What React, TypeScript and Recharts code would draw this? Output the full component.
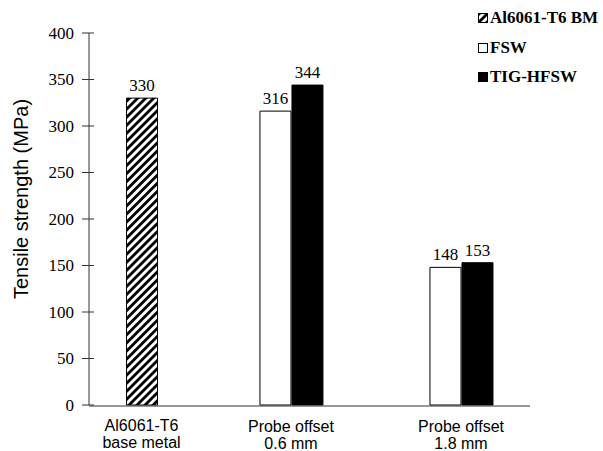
import React from 'react'
import { Bar, BarChart, LabelList, XAxis, YAxis } from 'recharts'

const categories = [
  ['Al6061-T6', 'base metal'],
  ['Probe offset', '0.6 mm'],
  ['Probe offset', '1.8 mm'],
]
const bmValues = [330, null, null]
const fswValues = [null, 316, 148]
const tigValues = [null, 344, 153]
const yTicks = [0, 50, 100, 150, 200, 250, 300, 350, 400]

const seriesNames = ['Al6061-T6 BM', 'FSW', 'TIG-HFSW']

const data = categories.map((c, i) => ({
  idx: i,
  bm: bmValues[i],
  fsw: fswValues[i],
  tig: tigValues[i],
}))

const serif = "'Liberation Serif', 'Times New Roman', serif"
const sans = "'Liberation Sans', Arial, sans-serif"
const axisColor = '#333'

const XTick = ({ x, y, payload }: any) => {
  const lines = categories[payload.value] || ['', '']
  return (
    <text x={x} y={y} textAnchor='middle' style={{ fontFamily: sans, fontSize: 16 }} fill='#000'>
      <tspan x={x} dy={26}>{lines[0]}</tspan>
      <tspan x={x} dy={17}>{lines[1]}</tspan>
    </text>
  )
}

const YTick = ({ x, y, payload }: any) => (
  <g>
    <line x1={x - 7} x2={x + 5} y1={y} y2={y} stroke={axisColor} strokeWidth={1} />
    <text x={x - 15} y={y} dy={5.5} textAnchor='end' style={{ fontFamily: serif, fontSize: 17 }} fill='#000'>
      {payload.value}
    </text>
  </g>
)

const YLabel = ({ viewBox }: any) => {
  const cy = viewBox.y + viewBox.height / 2 - 20
  return (
    <text x={21} y={cy} transform={`rotate(-90 21 ${cy})`} textAnchor='middle' dominantBaseline='central'
      style={{ fontFamily: sans, fontSize: 20 }} fill='#000'>
      Tensile strength (MPa)
    </text>
  )
}

function HatchDefs({ id }: { id: string }) {
  return (
    <defs>
      <pattern id={id} patternUnits='userSpaceOnUse' width={5.7} height={5.7} patternTransform='rotate(45)'>
        <rect width={5.7} height={5.7} fill='#fff' />
        <line x1={0} y1={0} x2={0} y2={5.7} stroke='#000' strokeWidth={5.6} />
      </pattern>
    </defs>
  )
}

function Legend() {
  const fills = ['url(#hatch-legend)', '#fff', '#000']
  const rows = [18, 48, 77]
  return (
    <div style={{ position: 'absolute', left: 0, top: 0 }}>
      {seriesNames.map((name, i) => (
        <div key={name} style={{ position: 'absolute', left: 478, top: rows[i] - 10, height: 20, display: 'flex', alignItems: 'center', whiteSpace: 'nowrap' }}>
          <svg width={10} height={10} style={{ marginRight: 2 }}>
            {i === 0 && <HatchDefs id='hatch-legend' />}
            <rect x={0.5} y={0.5} width={9} height={9} fill={fills[i]} stroke='#000' strokeWidth={1} />
          </svg>
          <span style={{ fontFamily: serif, fontSize: 17, fontWeight: 'bold', color: '#000' }}>{name}</span>
        </div>
      ))}
    </div>
  )
}

export default function App() {
  return (
    <div style={{ position: 'absolute', left: 0, top: 0, width: 603, height: 451, background: '#fff' }}>
      <BarChart width={603} height={451} data={data} margin={{ top: 33, right: 73, bottom: 44, left: 0 }} barGap={1}>
        <HatchDefs id='hatch' />
        <XAxis xAxisId='main' dataKey='idx' type='number' domain={[-0.188, 2.406]} allowDataOverflow
          ticks={[1, 2]} tick={<XTick />} tickLine={false} axisLine={{ stroke: axisColor }} height={1} tickSize={0} tickMargin={0} />
        <XAxis xAxisId='bm' dataKey='idx' type='number' domain={[-0.309, 2.285]} allowDataOverflow
          ticks={[0]} tick={<XTick />} tickLine={false} axisLine={false} height={1} tickSize={0} tickMargin={0} />
        <YAxis domain={[0, 400]} ticks={yTicks} width={89} tickSize={0} tickMargin={0} tickLine={false}
          axisLine={{ stroke: axisColor }} tick={<YTick />} label={<YLabel />} interval={0} />
        <Bar xAxisId='bm' dataKey='bm' name={seriesNames[0]} barSize={31} fill='url(#hatch)' stroke='#000' strokeWidth={1} isAnimationActive={false}>
          <LabelList dataKey='bm' position='top' offset={7} style={{ fontFamily: serif, fontSize: 17 }} fill='#000' />
        </Bar>
        <Bar xAxisId='main' dataKey='fsw' name={seriesNames[1]} barSize={31} fill='#fff' stroke='#000' strokeWidth={1} isAnimationActive={false}>
          <LabelList dataKey='fsw' position='top' offset={7} style={{ fontFamily: serif, fontSize: 17 }} fill='#000' />
        </Bar>
        <Bar xAxisId='main' dataKey='tig' name={seriesNames[2]} barSize={31} fill='#000' stroke='#000' strokeWidth={1} isAnimationActive={false}>
          <LabelList dataKey='tig' position='top' offset={7} style={{ fontFamily: serif, fontSize: 17 }} fill='#000' />
        </Bar>
      </BarChart>
      <Legend />
    </div>
  )
}
